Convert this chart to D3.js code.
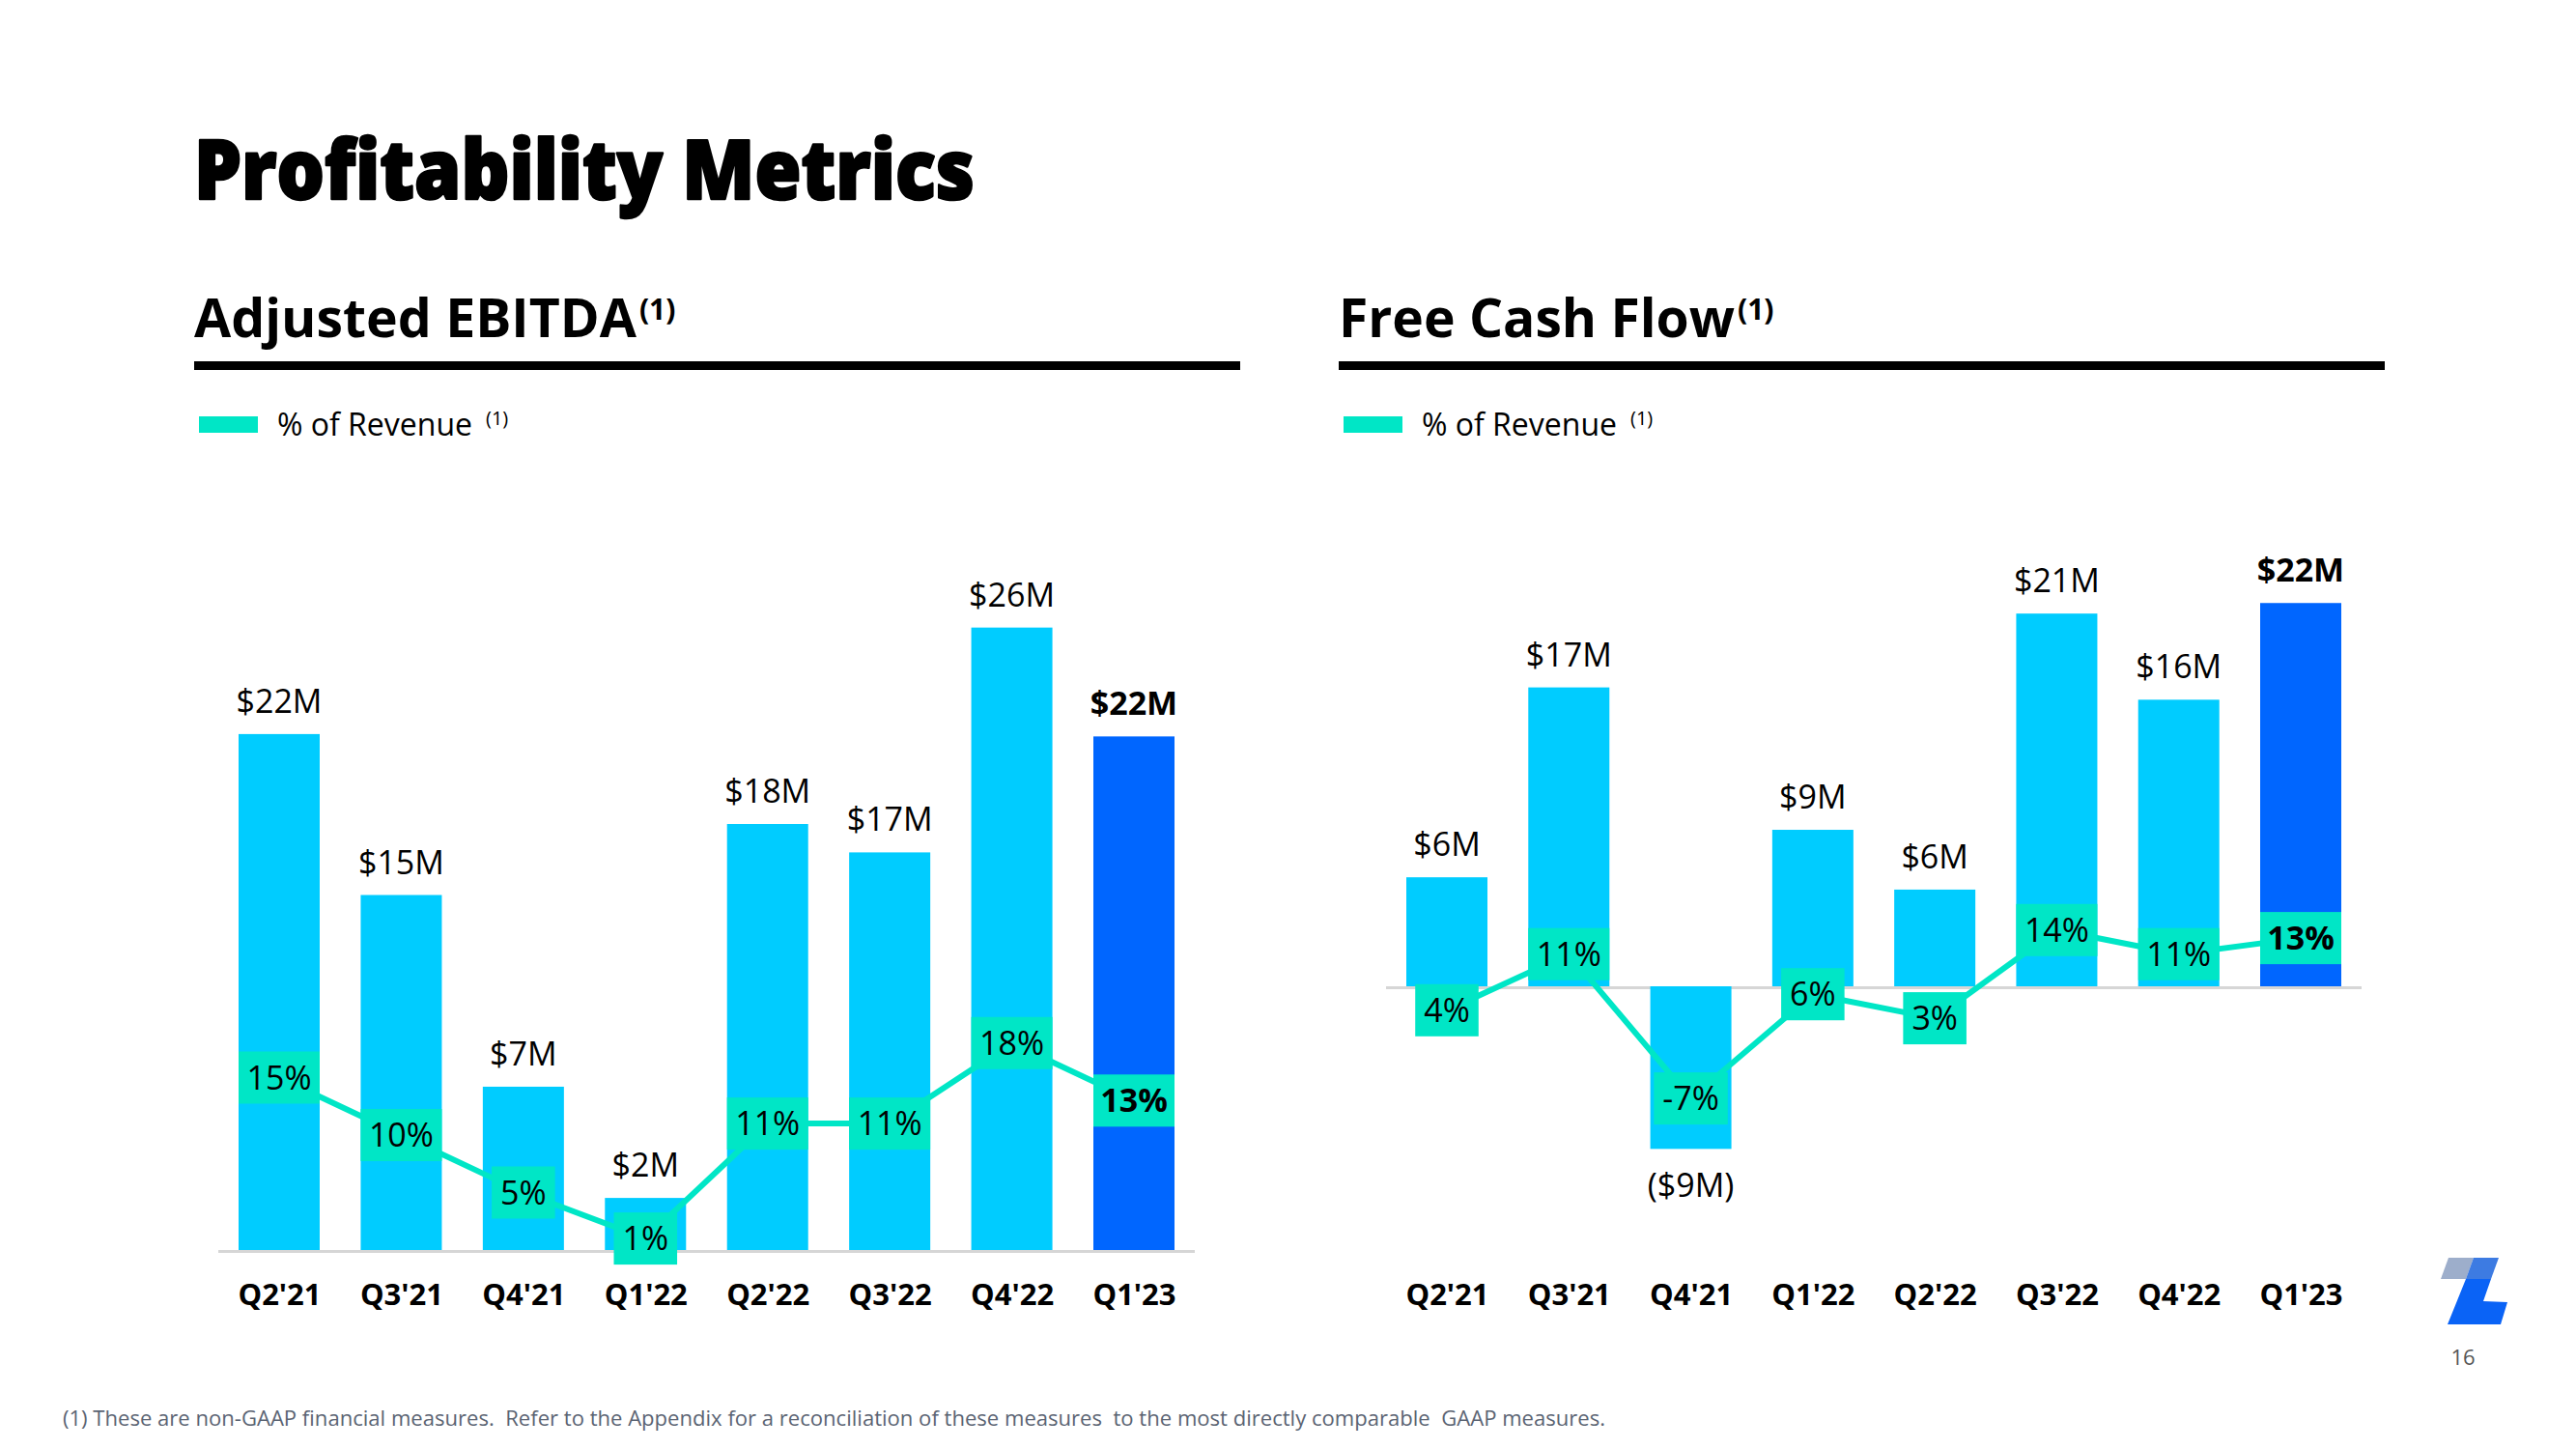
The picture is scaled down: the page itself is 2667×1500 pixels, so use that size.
<!DOCTYPE html>
<html><head><meta charset="utf-8">
<script src="https://cdn.jsdelivr.net/npm/d3@7/dist/d3.min.js"></script>
<style>
html,body{margin:0;padding:0;background:#fff;}
svg{display:block;font-family:"Open Sans",sans-serif;}
</style></head>
<body>
<svg id="c" width="2667" height="1500"></svg>
<script>
// ---------- data ----------
const quarters = ["Q2'21","Q3'21","Q4'21","Q1'22","Q2'22","Q3'22","Q4'22","Q1'23"];
const ebitdaValues = [21.8, 15.0, 6.9, 2.2, 18.0, 16.8, 26.3, 21.7];
const ebitdaLabels = ["$22M","$15M","$7M","$2M","$18M","$17M","$26M","$22M"];
const ebitdaPct = [15, 10, 5, 1, 11, 11, 18, 13];
const fcfValues = [6.2, 17.0, -9.25, 8.9, 5.5, 21.2, 16.3, 21.8];
const fcfLabels = ["$6M","$17M","($9M)","$9M","$6M","$21M","$16M","$22M"];
const fcfPct = [4, 11, -7, 6, 3, 14, 11, 13];
const pctLabels = p => p + "%";

const C_BAR = "#00CCFF", C_LAST = "#0066FF", C_TEAL = "#00E6C6", C_BASE = "#d6d6d6";

const svg = d3.select("#c");

function fitWidth(sel, w){
  sel.attr("textLength", w).attr("lengthAdjust","spacingAndGlyphs");
}

// ---------- titles ----------
svg.append("text").attr("x",201).attr("y",206)
  .attr("font-size",85).attr("font-weight",800).attr("fill","#000")
  .attr("stroke","#000").attr("stroke-width",2.5).attr("stroke-linejoin","round")
  .text("Profitability Metrics").call(fitWidth, 808);

function heading(x, title, w){
  const t = svg.append("text").attr("x",x).attr("y",349)
    .attr("font-size",56).attr("font-weight",700).attr("fill","#000").text(title);
  let tw = t.node().getComputedTextLength();
  if (tw > w) { t.attr("font-size", 56 * w / tw); tw = t.node().getComputedTextLength(); }
  svg.append("text").attr("x", x + tw + 3).attr("y", 331)
    .attr("font-size",30).attr("font-weight",700).attr("fill","#000").text("(1)");
  svg.append("rect").attr("x",x).attr("y",374).attr("width",1083).attr("height",9).attr("fill","#000");
  // legend
  svg.append("rect").attr("x",x+5).attr("y",431).attr("width",61).attr("height",17).attr("fill",C_TEAL);
  svg.append("text").attr("x",x+86).attr("y",451).attr("font-size",32).attr("fill","#000").text("% of Revenue");
  svg.append("text").attr("x",x+302).attr("y",440).attr("font-size",20).attr("fill","#000").text("(1)");
}
heading(201, "Adjusted EBITDA", 458);
heading(1386, "Free Cash Flow", 410);

// ---------- chart builder ----------
function chart(cfg){
  const x = d3.scalePoint().domain(quarters).range([cfg.c0, cfg.c1]);
  const bw = 84;
  const y = d3.scaleLinear().domain([0, 1]).range([cfg.base, cfg.base - cfg.perM]);
  const yp = d3.scaleLinear().domain([0, 1]).range([cfg.pZero, cfg.pZero - cfg.perPct]);
  const g = svg.append("g");
  const data = quarters.map((q,i)=>({q, v:cfg.values[i], lab:cfg.labels[i], p:cfg.pct[i], last:i===quarters.length-1}));

  // baseline
  g.append("line").attr("x1",cfg.c0-63).attr("x2",cfg.c1+63)
    .attr("y1",cfg.base+1.5).attr("y2",cfg.base+1.5)
    .attr("stroke",C_BASE).attr("stroke-width",3);

  // bars
  g.selectAll("rect.bar").data(data).join("rect").attr("class","bar")
    .attr("x", d=>x(d.q)-bw/2).attr("width", bw)
    .attr("y", d=>Math.min(y(d.v), y(0)))
    .attr("height", d=>Math.abs(y(d.v)-y(0)))
    .attr("fill", d=>d.last?C_LAST:C_BAR);

  // value labels
  g.selectAll("text.val").data(data).join("text").attr("class","val")
    .attr("x", d=>x(d.q)).attr("text-anchor","middle")
    .attr("y", d=> d.v>=0 ? y(d.v)-22 : y(d.v)+50)
    .attr("font-size",34).attr("font-weight", d=>d.last?700:400).attr("fill","#000")
    .text(d=>d.lab);

  // line
  const line = d3.line().x(d=>x(d.q)).y(d=>yp(d.p));
  g.append("path").datum(data).attr("d", line).attr("fill","none")
    .attr("stroke", C_TEAL).attr("stroke-width",6).attr("stroke-linejoin","round");

  // pct boxes
  const lg = g.selectAll("g.pl").data(data).join("g").attr("class","pl")
    .attr("transform", d=>`translate(${x(d.q)},${yp(d.p)})`);
  lg.append("rect").attr("fill", C_TEAL);
  lg.append("text").attr("text-anchor","middle").attr("y",12)
    .attr("font-size",34).attr("font-weight", d=>d.last?700:400).attr("fill","#000")
    .text(d=>pctLabels(d.p));
  lg.each(function(){
    const t = d3.select(this).select("text").node();
    const w = Math.min(bw, t.getComputedTextLength() + 18);
    d3.select(this).select("rect").attr("x",-w/2).attr("y",-27).attr("width",w).attr("height",54);
  });

  // x axis labels
  const ax = d3.axisBottom(x).tickSize(0).tickPadding(0);
  const axg = g.append("g").attr("transform",`translate(0,${cfg.axisY})`).call(ax);
  axg.select(".domain").remove();
  axg.selectAll("text").attr("font-size",31).attr("font-weight",700)
    .attr("font-family","'Open Sans',sans-serif").attr("fill","#000").attr("dy",0).attr("y",0);
}

chart({c0:289, c1:1174, base:1294, perM:24.5, pZero:1294, perPct:11.9,
  values:ebitdaValues, labels:ebitdaLabels, pct:ebitdaPct, axisY:1351});
chart({c0:1498, c1:2382, base:1021, perM:18.2, pZero:1079, perPct:8.3,
  values:fcfValues, labels:fcfLabels, pct:fcfPct, axisY:1351});

// ---------- logo ----------
const logo = svg.append("g");
logo.append("polygon").attr("points","2535,1302 2561,1302 2553,1324 2527,1324").attr("fill","#9DAECB");
logo.append("polygon").attr("points","2561,1302 2587,1302 2579,1324 2553,1324").attr("fill","#3D7BE2");
logo.append("polygon").attr("points","2553,1324 2579,1324 2571,1347 2596,1348 2589,1371 2534,1371").attr("fill","#0A63F6");

// ---------- page number & footnote ----------
svg.append("text").attr("x",2550).attr("y",1413).attr("text-anchor","middle")
  .attr("font-size",22).attr("fill","#555").text("16");
svg.append("text").attr("x",65).attr("y",1476).attr("font-size",21).attr("fill","#5b6473")
  .text("(1) These are non-GAAP financial measures.  Refer to the Appendix for a reconciliation of these measures  to the most directly comparable  GAAP measures.")
  .attr("xml:space","preserve").call(fitWidth, 1597);
</script>
</body></html>
